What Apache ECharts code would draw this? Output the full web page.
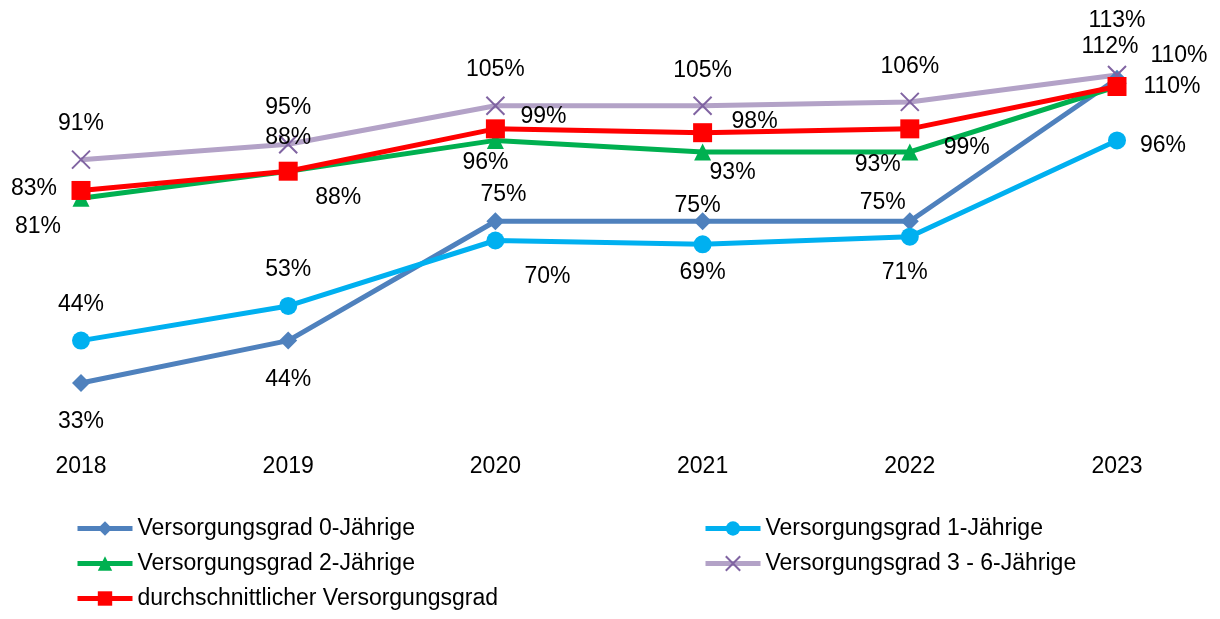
<!DOCTYPE html>
<html>
<head>
<meta charset="utf-8">
<script src="https://cdn.jsdelivr.net/npm/echarts@6/dist/echarts.min.js"></script>
<style>
  html, body { margin: 0; padding: 0; background: #fff; }
  #main { width: 1220px; height: 619px; }
</style>
</head>
<body>
<div id="main"></div>
<script>
const years = ['2018', '2019', '2020', '2021', '2022', '2023']
const grad0 = [33, 44, 75, 75, 75, 112]
const grad1 = [44, 53, 70, 69, 71, 96]
const grad2 = [81, 88, 96, 93, 93, 110]
const grad36 = [91, 95, 105, 105, 106, 113]
const avgGrad = [83, 88, 99, 98, 99, 110]

// label offsets (px) relative to each point, like in the original
const off0 = [[0, 39], [0, 39], [8, -27], [-5, -16], [-27, -19], [-7, -32]]
const off1 = [[0, -36], [0, -36], [52, 36], [0, 28], [-5, 36], [46, 5]]
const off2 = [[-43, 29], [50, 26], [-10, 22], [30, 21], [-32, 13], [55, 0]]
const off36 = [[0, -36], [0, -37], [0, -36], [0, -35], [0, -35], [0, -54]]
const offAvg = [[-47, -2], [0, -34], [48, -12], [52, -11], [57, 19], [62, -31]]

const font = '"Liberation Sans", Arial, sans-serif'
const fs = 23

const withLabels = (values, offsets) => values.map((v, i) => ({
    value: v,
    label: { offset: offsets[i] }
}))

const lineSeries = (name, values, offsets, color, symbol, size, extra) => Object.assign({
    name: name,
    type: 'line',
    data: withLabels(values, offsets),
    symbol: symbol,
    symbolSize: size,
    lineStyle: { color: color, width: 5 },
    itemStyle: { color: color },
    label: {
        show: true,
        position: 'inside',
        formatter: '{c}%',
        color: '#000',
        fontSize: fs,
        fontFamily: font
    }
}, extra || {})

const legendBase = {
    orient: 'vertical',
    top: 517,
    padding: 0,
    itemWidth: 55,
    itemHeight: 18,
    itemGap: 12,
    lineStyle: { width: 5 },
    textStyle: { color: '#000', fontSize: fs, fontFamily: font, lineHeight: 23 }
}

const myChart = echarts.init(document.getElementById('main'))

myChart.setOption({
    animation: false,
    backgroundColor: '#fff',
    grid: { left: 81, right: 103, top: 48, bottom: 186 },
    xAxis: {
        type: 'category',
        data: years,
        boundaryGap: false,
        axisLine: { show: false },
        axisTick: { show: false },
        axisLabel: { color: '#000', fontSize: fs, fontFamily: font, margin: 22 }
    },
    yAxis: { type: 'value', min: 20, max: 120, show: false },
    legend: [
        Object.assign({}, legendBase, {
            left: 75,
            data: ['Versorgungsgrad 0-Jährige', 'Versorgungsgrad 2-Jährige', 'durchschnittlicher Versorgungsgrad']
        }),
        Object.assign({}, legendBase, {
            left: 703,
            data: ['Versorgungsgrad 1-Jährige', 'Versorgungsgrad 3 - 6-Jährige']
        })
    ],
    series: [
        lineSeries('Versorgungsgrad 0-Jährige', grad0, off0, '#4F81BD', 'diamond', 18),
        lineSeries('Versorgungsgrad 1-Jährige', grad1, off1, '#00B0F0', 'circle', 18),
        lineSeries('Versorgungsgrad 2-Jährige', grad2, off2, '#00B050', 'triangle', 17),
        lineSeries('Versorgungsgrad 3 - 6-Jährige', grad36, off36, '#B3A2C7', 'path://M0 0L20 20M20 0L0 20', 18, {
            itemStyle: { color: '#B3A2C7', borderColor: '#8064A2', borderWidth: 2 }
        }),
        lineSeries('durchschnittlicher Versorgungsgrad', avgGrad, offAvg, '#FF0000', 'rect', 19)
    ]
})
</script>
</body>
</html>
